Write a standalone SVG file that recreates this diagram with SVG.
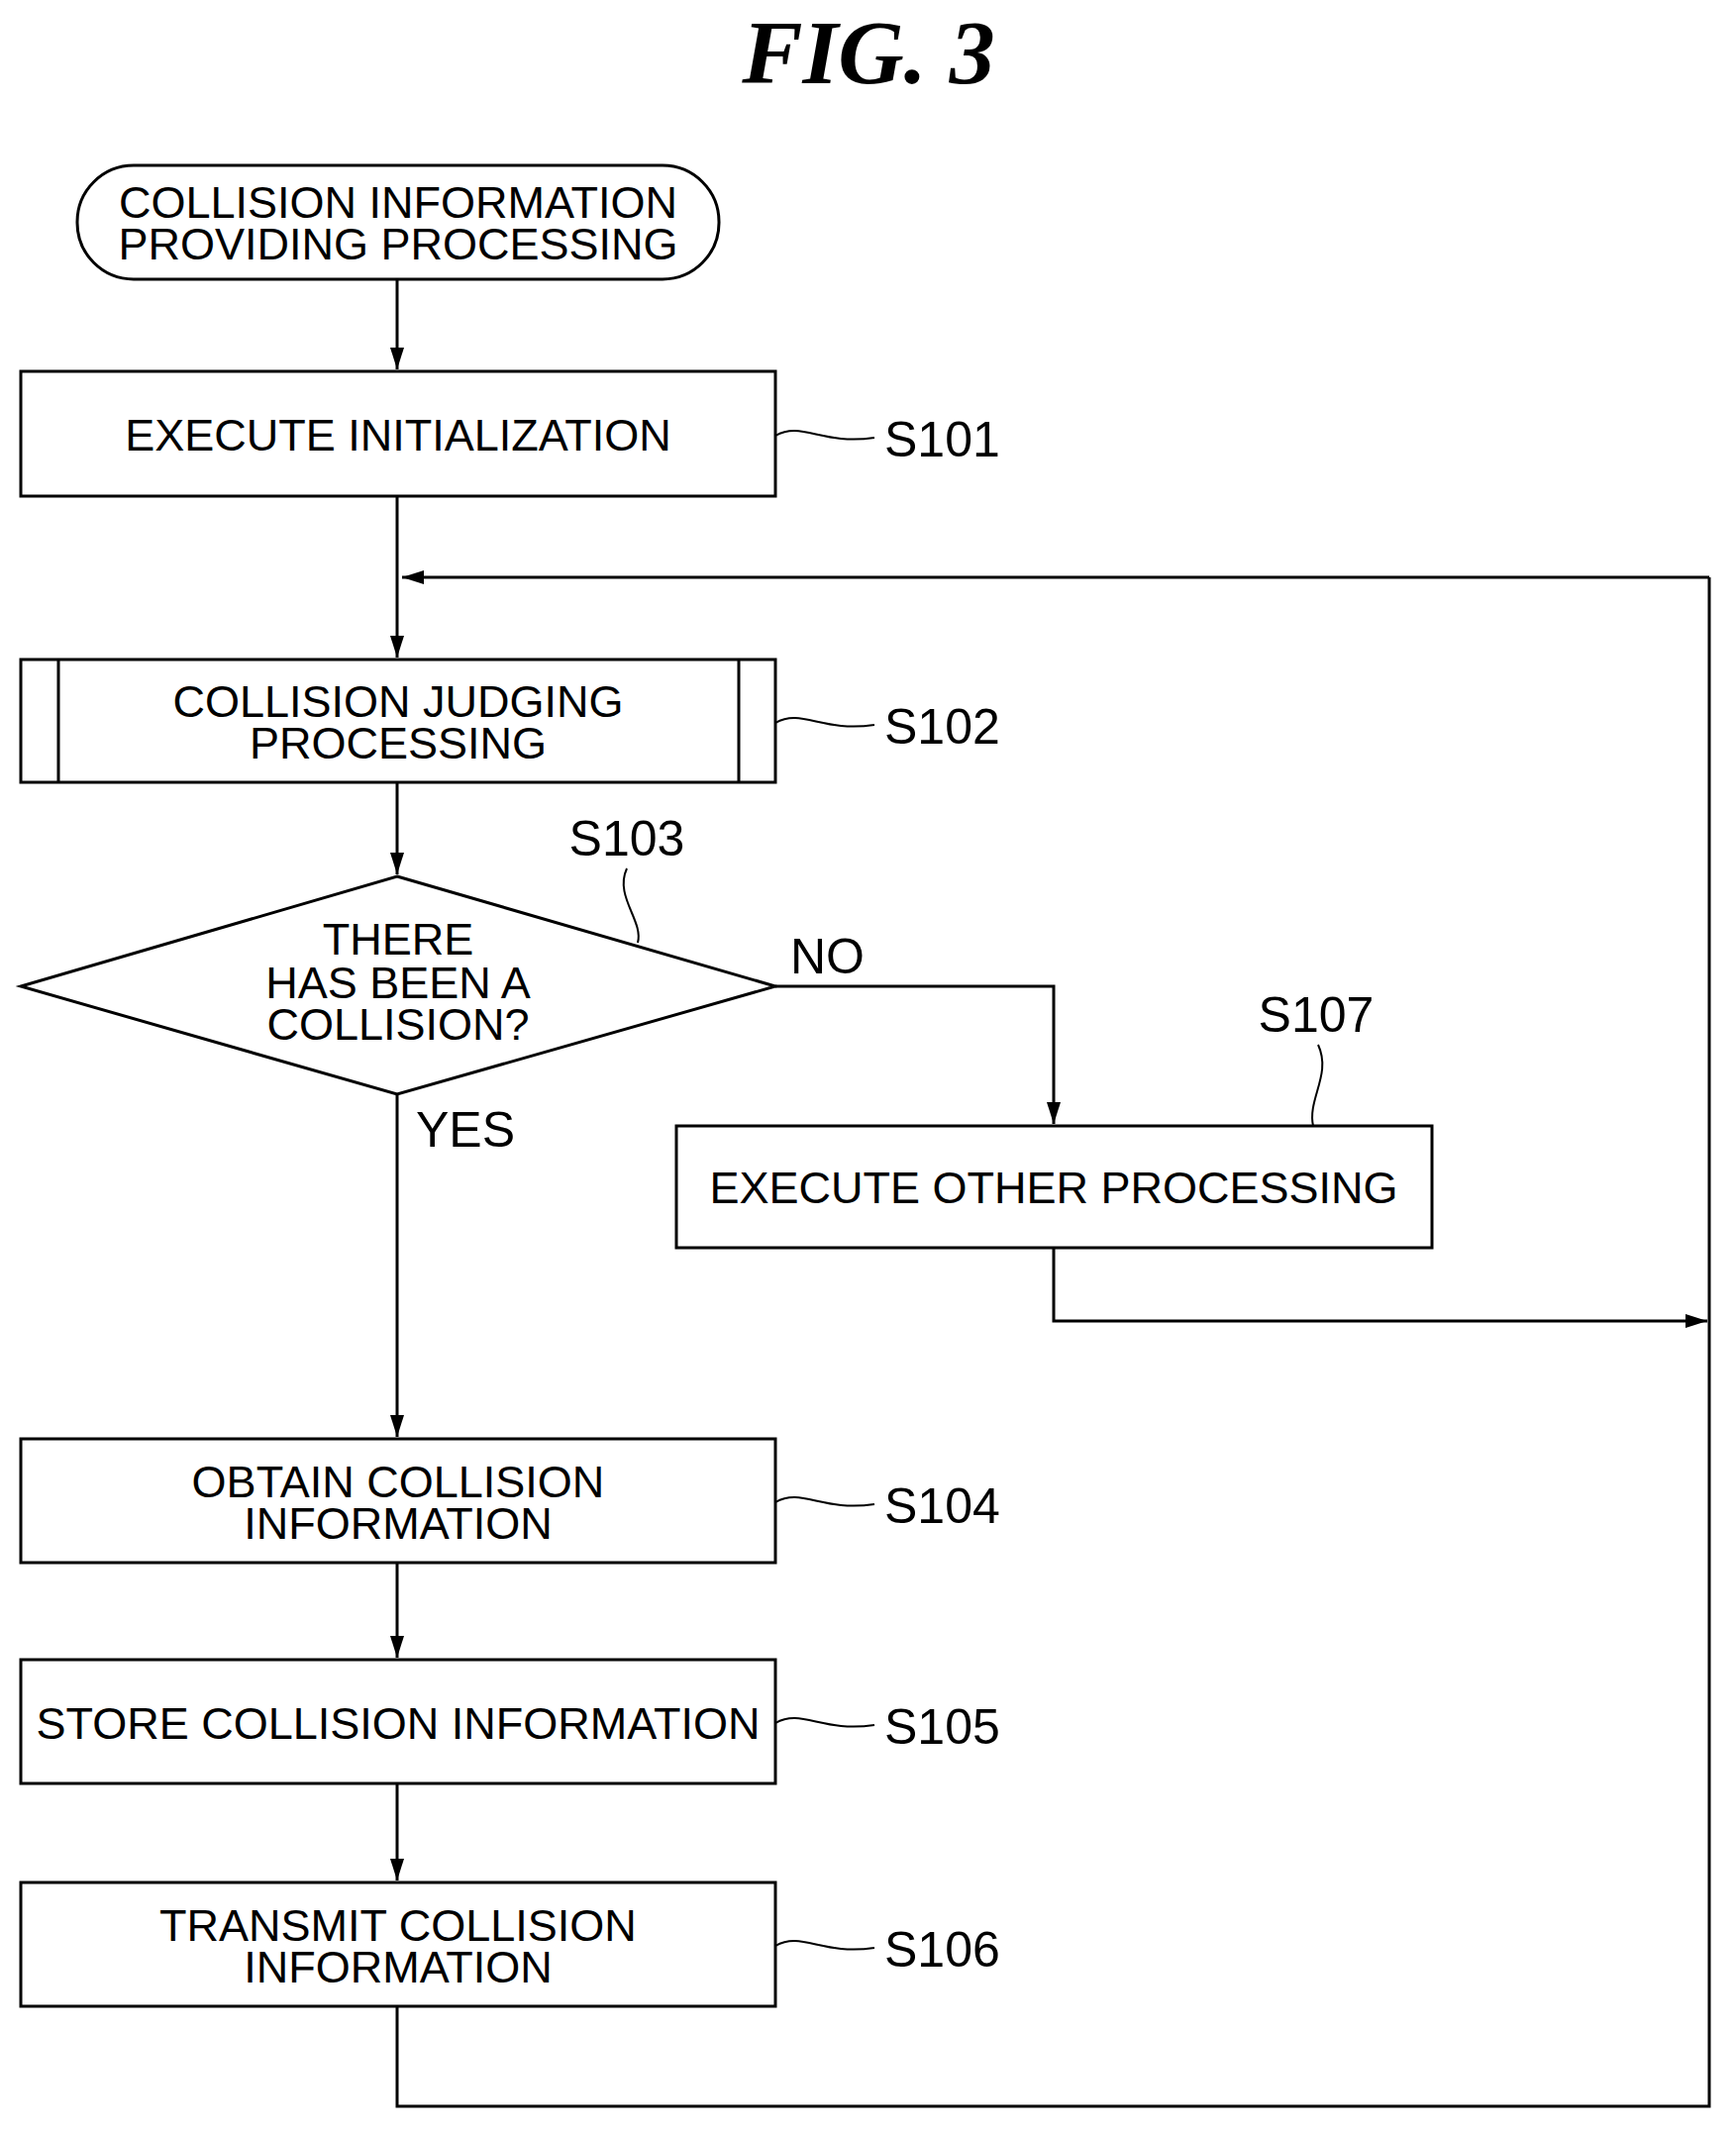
<svg xmlns="http://www.w3.org/2000/svg" width="1753" height="2155" viewBox="0 0 1753 2155">
<style>
.b{fill:#fff;stroke:#000;stroke-width:3}
.t{font-family:"Liberation Sans",Arial,sans-serif;font-size:45px;text-anchor:middle;fill:#000}
.l{font-family:"Liberation Sans",Arial,sans-serif;font-size:50px;fill:#000}
.c{fill:none;stroke:#000;stroke-width:3}
.s{fill:none;stroke:#000;stroke-width:2}
</style>
<defs>
<marker id="a2" markerWidth="22" markerHeight="14" refX="22" refY="7" orient="auto" markerUnits="userSpaceOnUse" viewBox="0 0 22 14"><path d="M0,0L22,7L0,14z" fill="#000"/></marker></defs>
<rect width="1753" height="2155" fill="#fff"/>
<text x="877" y="84" font-family="Liberation Serif,serif" font-size="92" font-weight="bold" font-style="italic" text-anchor="middle">FIG. 3</text>
<g id="connectors">
<path class="c" d="M401,282V373" marker-end="url(#a2)"/>
<path class="c" d="M401,501V664" marker-end="url(#a2)"/>
<path class="c" d="M1726,583H406" marker-end="url(#a2)"/>
<path class="c" d="M401,790V883" marker-end="url(#a2)"/>
<path class="c" d="M783,996H1064V1135" marker-end="url(#a2)"/>
<path class="c" d="M1064,1260V1334H1724" marker-end="url(#a2)"/>
<path class="c" d="M401,1105V1451" marker-end="url(#a2)"/>
<path class="c" d="M401,1578V1674" marker-end="url(#a2)"/>
<path class="c" d="M401,1801V1899" marker-end="url(#a2)"/>
<path class="c" d="M401,2026V2127H1726V583"/>
<text class="l" x="798" y="983">NO</text>
<text class="l" x="420" y="1158">YES</text>
</g>
<g id="start"><rect class="b" x="78" y="167" width="648" height="115" rx="57"/>
<text class="t" x="402" y="220">COLLISION INFORMATION</text><text class="t" x="402" y="262">PROVIDING PROCESSING</text></g>
<g id="S101"><rect class="b" x="21" y="375" width="762" height="126"/>
<text class="t" x="402" y="455">EXECUTE INITIALIZATION</text>
<path class="s" d="M783,440C810,425 830,450 883,442"/><text class="l" x="893" y="461">S101</text></g>
<g id="S102"><rect class="b" x="21" y="666" width="762" height="124"/>
<path class="c" d="M59,666V790M746,666V790"/>
<text class="t" x="402" y="724">COLLISION JUDGING</text><text class="t" x="402" y="766">PROCESSING</text>
<path class="s" d="M783,730C810,715 830,740 883,732"/><text class="l" x="893" y="751">S102</text></g>
<g id="S103"><path class="b" d="M401,885L783,996L401,1105L21,996Z"/>
<text class="t" x="402" y="964">THERE</text><text class="t" x="402" y="1008">HAS BEEN A</text><text class="t" x="402" y="1050">COLLISION?</text>
<path class="s" d="M644,952C650,930 620,905 633,877"/><text class="l" x="633" y="864" text-anchor="middle">S103</text></g>
<g id="S107"><rect class="b" x="683" y="1137" width="763" height="123"/>
<text class="t" x="1064" y="1215">EXECUTE OTHER PROCESSING</text>
<path class="s" d="M1326,1137C1320,1110 1345,1085 1331,1055"/><text class="l" x="1329" y="1042" text-anchor="middle">S107</text></g>
<g id="S104"><rect class="b" x="21" y="1453" width="762" height="125"/>
<text class="t" x="402" y="1512">OBTAIN COLLISION</text><text class="t" x="402" y="1554">INFORMATION</text>
<path class="s" d="M783,1517C810,1502 830,1527 883,1519"/><text class="l" x="893" y="1538">S104</text></g>
<g id="S105"><rect class="b" x="21" y="1676" width="762" height="125"/>
<text class="t" x="402" y="1756">STORE COLLISION INFORMATION</text>
<path class="s" d="M783,1740C810,1725 830,1750 883,1742"/><text class="l" x="893" y="1761">S105</text></g>
<g id="S106"><rect class="b" x="21" y="1901" width="762" height="125"/>
<text class="t" x="402" y="1960">TRANSMIT COLLISION</text><text class="t" x="402" y="2002">INFORMATION</text>
<path class="s" d="M783,1965C810,1950 830,1975 883,1967"/><text class="l" x="893" y="1986">S106</text></g>
</svg>
